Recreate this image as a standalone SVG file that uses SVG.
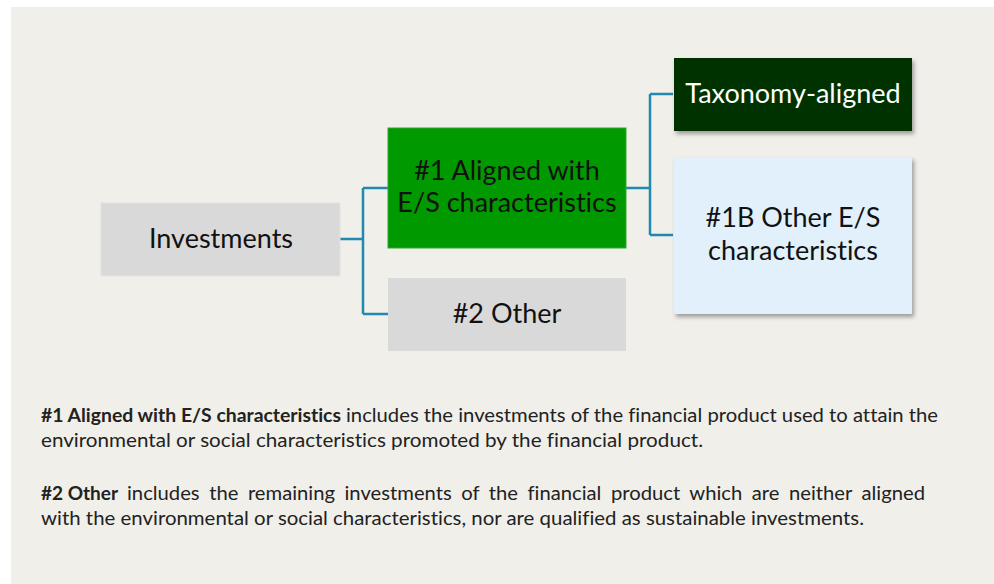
<svg xmlns="http://www.w3.org/2000/svg" width="994" height="584" viewBox="0 0 994 584">
<style>
text{font-variant-ligatures:none}
.box{font-family:Lato,"Open Sans","DejaVu Sans",sans-serif;font-size:27px;text-anchor:middle;fill:#111}
.conn{fill:none;stroke:#2189b0;stroke-width:2.5}
.note{font-family:Lato,"Open Sans","DejaVu Sans",sans-serif;font-size:18.5px;fill:#222}
.b{font-weight:bold}
</style>
<defs>
<filter id="sh" x="-10%" y="-10%" width="125%" height="130%">
<feDropShadow dx="2" dy="3" stdDeviation="2" flood-color="#000" flood-opacity="0.35"/>
</filter>
</defs>
<rect x="0" y="0" width="994" height="584" fill="#ffffff"/>
<rect x="11" y="7" width="983" height="577" fill="#f0efea"/>
<g id="connectors">
<path class="conn" d="M340,239 H363 M363,188 V314 M363,188 H388 M363,314 H388"/>
<path class="conn" d="M626,188 H650 M650,94 V235 M650,94 H673 M650,235 H673"/>
</g>
<g id="investments">
<rect x="101" y="203" width="239" height="73" fill="#d9d9d9" stroke="#e2e2e2" stroke-width="1"/>
<text class="box" x="221" y="248">Investments</text>
</g>
<g id="aligned">
<rect x="388" y="128" width="238" height="120" fill="#009900" stroke="#2fa82f" stroke-width="1"/>
<text class="box" x="507" y="180">#1 Aligned with</text>
<text class="box" x="507" y="212">E/S characteristics</text>
</g>
<g id="other">
<rect x="388" y="278" width="238" height="73" fill="#d9d9d9"/>
<text class="box" x="507" y="323">#2 Other</text>
</g>
<g id="taxonomy">
<rect x="674" y="58" width="238" height="73" fill="#003300" filter="url(#sh)"/>
<text class="box" x="793" y="103" style="fill:#ffffff">Taxonomy-aligned</text>
</g>
<g id="other-es">
<rect x="674" y="157" width="238" height="157" fill="#e1f0fa" filter="url(#sh)"/>
<text class="box" x="793" y="227">#1B Other E/S</text>
<text class="box" x="793" y="260">characteristics</text>
</g>
<g id="notes">
<text class="note b" x="41" y="422" textLength="300" lengthAdjust="spacingAndGlyphs">#1 Aligned with E/S characteristics</text>
<text class="note" x="346" y="422" textLength="592" lengthAdjust="spacingAndGlyphs">includes the investments of the financial product used to attain the</text>
<text class="note" x="41" y="447" textLength="662" lengthAdjust="spacingAndGlyphs">environmental or social characteristics promoted by the financial product.</text>
<text class="note b" x="41" y="500" textLength="77" lengthAdjust="spacingAndGlyphs">#2 Other</text>
<text class="note" x="127" y="500" textLength="798" lengthAdjust="spacingAndGlyphs" word-spacing="4">includes the remaining investments of the financial product which are neither aligned</text>
<text class="note" x="41" y="525" textLength="823" lengthAdjust="spacingAndGlyphs">with the environmental or social characteristics, nor are qualified as sustainable investments.</text>
</g>
</svg>
